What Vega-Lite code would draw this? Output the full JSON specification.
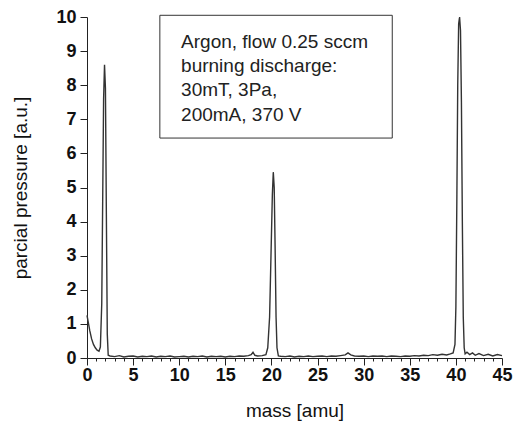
{
  "$schema": "https://vega.github.io/schema/vega-lite/v6.json",
  "width": 415,
  "height": 341,
  "autosize": {"type": "none"},
  "padding": {"left": 87, "top": 17, "right": 12, "bottom": 69},
  "background": "white",
  "config": {
    "view": {"stroke": null},
    "font": "Liberation Sans",
    "axis": {"domainColor": "#222", "tickColor": "#222", "labelColor": "#111", "titleColor": "#111", "grid": false}
  },
  "datasets": {
    "spec": [
      {"m": 0.0, "p": 1.25}, {"m": 0.1, "p": 1.1}, {"m": 0.3, "p": 0.8}, {"m": 0.5, "p": 0.56}, {"m": 0.7, "p": 0.4},
      {"m": 0.9, "p": 0.3}, {"m": 1.1, "p": 0.23}, {"m": 1.3, "p": 0.2}, {"m": 1.45, "p": 0.32}, {"m": 1.6, "p": 1.6},
      {"m": 1.7, "p": 4.6}, {"m": 1.8, "p": 7.6}, {"m": 1.9, "p": 8.6}, {"m": 2.0, "p": 7.9}, {"m": 2.1, "p": 4.2},
      {"m": 2.2, "p": 0.7}, {"m": 2.3, "p": 0.08}, {"m": 2.5, "p": 0.06}, {"m": 3.0, "p": 0.04}, {"m": 3.5, "p": 0.07},
      {"m": 4.0, "p": 0.03}, {"m": 4.5, "p": 0.05}, {"m": 5.0, "p": 0.06}, {"m": 5.5, "p": 0.03}, {"m": 6.0, "p": 0.05},
      {"m": 6.5, "p": 0.04}, {"m": 7.0, "p": 0.06}, {"m": 7.5, "p": 0.03}, {"m": 8.0, "p": 0.05}, {"m": 8.5, "p": 0.04},
      {"m": 9.0, "p": 0.06}, {"m": 9.5, "p": 0.03}, {"m": 10.0, "p": 0.04}, {"m": 10.5, "p": 0.05}, {"m": 11.0, "p": 0.03},
      {"m": 11.5, "p": 0.05}, {"m": 12.0, "p": 0.04}, {"m": 12.5, "p": 0.06}, {"m": 13.0, "p": 0.03}, {"m": 13.5, "p": 0.05},
      {"m": 14.0, "p": 0.04}, {"m": 14.5, "p": 0.05}, {"m": 15.0, "p": 0.03}, {"m": 15.5, "p": 0.05}, {"m": 16.0, "p": 0.04},
      {"m": 16.5, "p": 0.06}, {"m": 17.0, "p": 0.05}, {"m": 17.5, "p": 0.07}, {"m": 17.8, "p": 0.1}, {"m": 18.0, "p": 0.17},
      {"m": 18.2, "p": 0.08}, {"m": 18.5, "p": 0.06}, {"m": 19.0, "p": 0.07}, {"m": 19.4, "p": 0.1}, {"m": 19.6, "p": 0.3},
      {"m": 19.8, "p": 1.2}, {"m": 19.95, "p": 3.0}, {"m": 20.1, "p": 4.8}, {"m": 20.2, "p": 5.45}, {"m": 20.3, "p": 5.0},
      {"m": 20.4, "p": 3.2}, {"m": 20.5, "p": 1.2}, {"m": 20.6, "p": 0.3}, {"m": 20.75, "p": 0.06}, {"m": 21.0, "p": 0.05},
      {"m": 21.5, "p": 0.04}, {"m": 22.0, "p": 0.06}, {"m": 22.5, "p": 0.03}, {"m": 23.0, "p": 0.05}, {"m": 23.5, "p": 0.04},
      {"m": 24.0, "p": 0.06}, {"m": 24.5, "p": 0.04}, {"m": 25.0, "p": 0.05}, {"m": 25.5, "p": 0.06}, {"m": 26.0, "p": 0.04},
      {"m": 26.5, "p": 0.06}, {"m": 27.0, "p": 0.05}, {"m": 27.5, "p": 0.07}, {"m": 28.0, "p": 0.09}, {"m": 28.3, "p": 0.15},
      {"m": 28.6, "p": 0.09}, {"m": 29.0, "p": 0.06}, {"m": 29.5, "p": 0.05}, {"m": 30.0, "p": 0.06}, {"m": 30.5, "p": 0.04},
      {"m": 31.0, "p": 0.06}, {"m": 31.5, "p": 0.05}, {"m": 32.0, "p": 0.06}, {"m": 32.5, "p": 0.04}, {"m": 33.0, "p": 0.06},
      {"m": 33.5, "p": 0.05}, {"m": 34.0, "p": 0.04}, {"m": 34.5, "p": 0.06}, {"m": 35.0, "p": 0.05}, {"m": 35.5, "p": 0.07},
      {"m": 36.0, "p": 0.06}, {"m": 36.5, "p": 0.08}, {"m": 37.0, "p": 0.07}, {"m": 37.5, "p": 0.1}, {"m": 38.0, "p": 0.08},
      {"m": 38.5, "p": 0.11}, {"m": 39.0, "p": 0.09}, {"m": 39.4, "p": 0.12}, {"m": 39.7, "p": 0.15}, {"m": 39.9, "p": 0.4},
      {"m": 40.0, "p": 1.5}, {"m": 40.1, "p": 4.5}, {"m": 40.2, "p": 8.0}, {"m": 40.3, "p": 9.8}, {"m": 40.4, "p": 10.0},
      {"m": 40.5, "p": 9.6}, {"m": 40.6, "p": 7.5}, {"m": 40.7, "p": 4.0}, {"m": 40.8, "p": 1.2}, {"m": 40.9, "p": 0.3},
      {"m": 41.0, "p": 0.12}, {"m": 41.2, "p": 0.17}, {"m": 41.5, "p": 0.1}, {"m": 41.8, "p": 0.15}, {"m": 42.1, "p": 0.08},
      {"m": 42.5, "p": 0.13}, {"m": 43.0, "p": 0.07}, {"m": 43.5, "p": 0.11}, {"m": 44.0, "p": 0.06}, {"m": 44.5, "p": 0.1},
      {"m": 45.0, "p": 0.07}
    ],
    "box": [{"m": 7.9, "m2": 33.1, "p": 10.05, "p2": 6.45}],
    "notes": [
      {"m": 10.2, "p": 9.27, "t": "Argon, flow 0.25 sccm"},
      {"m": 10.2, "p": 8.55, "t": "burning discharge:"},
      {"m": 10.2, "p": 7.86, "t": "30mT, 3Pa,"},
      {"m": 10.2, "p": 7.14, "t": "200mA, 370 V"}
    ]
  },
  "encoding": {
    "x": {"field": "m", "type": "quantitative", "scale": {"domain": [0, 45], "nice": false, "zero": false},
      "axis": {"title": "mass [amu]",
        "values": [0,1,2,3,4,5,6,7,8,9,10,11,12,13,14,15,16,17,18,19,20,21,22,23,24,25,26,27,28,29,30,31,32,33,34,35,36,37,38,39,40,41,42,43,44,45],
        "labelExpr": "datum.value % 5 === 0 ? datum.label : ''",
        "tickSize": {"condition": {"test": "datum.value % 5 === 0", "value": 7}, "value": 3},
        "labelOverlap": false, "labelFontSize": 18, "labelFontWeight": "bold", "labelPadding": 1, "labelFlush": false,
        "titleFontSize": 19, "titleFontWeight": "normal", "titlePadding": 17}},
    "y": {"field": "p", "type": "quantitative", "scale": {"domain": [0, 10], "nice": false},
      "axis": {"title": "parcial pressure [a.u.]", "values": [0,1,2,3,4,5,6,7,8,9,10], "labelOverlap": false, "tickSize": 7, "labelFontSize": 18, "labelFontWeight": "bold", "labelPadding": 4, "titleFontSize": 19, "titleFontWeight": "normal", "titlePadding": 25}}
  },
  "layer": [
    {
      "data": {"name": "spec"},
      "mark": {"type": "line", "color": "#333", "strokeWidth": 1.4, "clip": false}
    },
    {
      "data": {"name": "box"},
      "mark": {"type": "rect", "fill": "white", "fillOpacity": 0, "stroke": "#333", "strokeWidth": 1},
      "encoding": {
        "x2": {"field": "m2"},
        "y2": {"field": "p2"}
      }
    },
    {
      "data": {"name": "notes"},
      "mark": {"type": "text", "align": "left", "baseline": "middle", "fontSize": 19, "color": "#222", "font": "Liberation Sans"},
      "encoding": {
        "text": {"field": "t"}
      }
    }
  ]
}
